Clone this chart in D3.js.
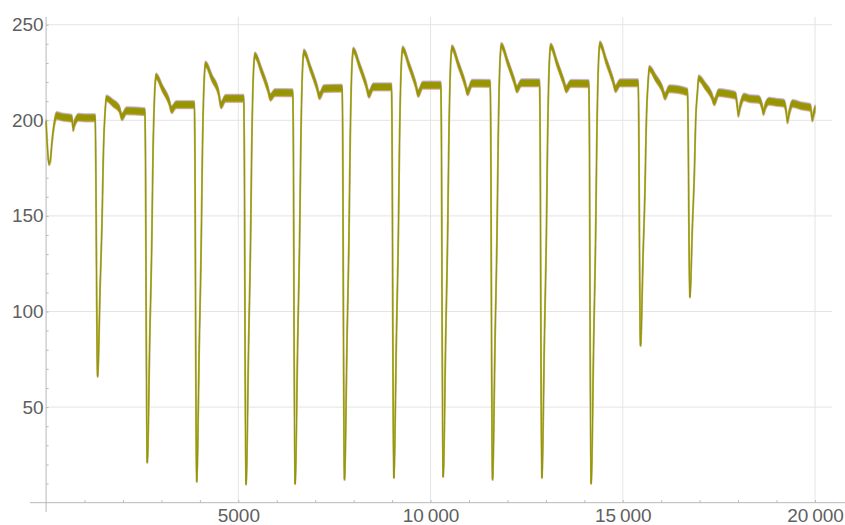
<!DOCTYPE html>
<html>
<head>
<meta charset="utf-8">
<script src="https://cdn.jsdelivr.net/npm/d3@7"></script>
<style>
  body { margin: 0; background: #fff; }
  text { font-family: "Liberation Sans", Arial, sans-serif; }
</style>
</head>
<body>
<div id="chart-area"></div>
<script>

// Trace: time, level, and half-width of the noisy band
var sampleT = [
  [0, 40, 75, 110, 150, 210, 271, 400, 669, 690, 703, 740, 800, 833, 1000],
  [1276, 1293, 1316, 1338, 1408, 1453, 1493, 1533, 1568, 1738, 1903, 1973, 2088],
  [2568, 2585, 2608, 2630, 2700, 2745, 2785, 2825, 2860, 3030, 3195, 3265, 3380],
  [3854, 3871, 3894, 3916, 3986, 4031, 4071, 4111, 4146, 4316, 4481, 4551, 4666],
  [5138, 5155, 5178, 5200, 5270, 5315, 5355, 5395, 5430, 5600, 5765, 5835, 5950],
  [6414, 6431, 6454, 6476, 6546, 6591, 6631, 6671, 6706, 6876, 7041, 7111, 7226],
  [7698, 7715, 7738, 7760, 7830, 7875, 7915, 7955, 7990, 8160, 8325, 8395, 8510],
  [8982, 8999, 9022, 9044, 9114, 9159, 9199, 9239, 9274, 9444, 9609, 9679, 9794],
  [10265, 10282, 10305, 10327, 10397, 10442, 10482, 10522, 10557, 10727, 10892, 10962, 11077],
  [11549, 11566, 11589, 11611, 11681, 11726, 11766, 11806, 11841, 12011, 12176, 12246, 12361],
  [12833, 12850, 12873, 12895, 12965, 13010, 13050, 13090, 13125, 13295, 13460, 13530, 13645],
  [14114, 14131, 14154, 14176, 14246, 14291, 14331, 14371, 14406, 14576, 14741, 14811, 14926],
  [15398, 15415, 15438, 15460, 15530, 15575, 15615, 15655, 15690, 15860, 16025, 16095, 16210],
  [16682, 16699, 16722, 16744, 16814, 16859, 16899, 16939, 16974, 17144, 17309, 17379, 17494],
  [17700, 17934, 17975, 18004, 18060, 18150, 18300, 18540, 18625, 18655, 18720, 18801,
   19000, 19192, 19255, 19280, 19340, 19411, 19650, 19883, 19910, 19927, 19970, 20000]
].flat();

var sampleV = [
  [199, 184, 177.5, 179, 188, 198, 202.5, 201.8, 201, 198, 196, 198.5, 201, 201.6, 201.3],
  [201.3, 176, 106, 66, 115, 146, 185, 204, 211.5, 209, 206, 201.8, 205],
  [204.5, 180, 76, 21, 90, 132, 187, 215, 223, 216.5, 210, 205.5, 208.2],
  [208.2, 183, 70, 11, 85, 131, 190, 221, 229.3, 222, 214.8, 208, 211.5],
  [211.5, 186, 70, 9.6, 86, 133, 194, 226, 234, 226, 216.6, 212, 214.5],
  [214.4, 189, 71, 9.8, 86.6, 134, 195, 227.6, 235.6, 227, 217.5, 212.8, 216.6],
  [216.8, 191, 74, 12, 88, 135.5, 196, 228.6, 236.6, 228, 218.4, 213.6, 217.5],
  [217.5, 192, 74.5, 13, 89, 136, 197, 229.2, 237.2, 228.5, 218.8, 214, 218.4],
  [218.4, 193, 75, 13.5, 89.8, 137, 197.4, 229.8, 237.8, 229, 219.5, 214.8, 219.4],
  [219.3, 194, 74, 12, 89, 137, 198, 231, 239, 230, 220.5, 216.3, 219.6],
  [219.6, 194, 75, 13, 89.7, 137, 198, 230.7, 238.7, 229.5, 220.2, 216.3, 219.3],
  [219.2, 194, 73, 10, 88, 136, 198.4, 231.8, 239.8, 230.5, 221, 216.5, 219.6],
  [219.6, 200, 123, 82, 131, 162, 201, 219, 227, 222, 216.5, 212.6, 216.5],
  [214.8, 198, 140, 107.5, 146.4, 170.5, 201.4, 214, 222, 218, 213, 209.6, 214.5],
  [214, 213, 208, 203.5, 208, 212.2, 211.3, 211, 207, 204.4, 208, 210,
   209.4, 209, 204, 200, 205, 208.8, 207.5, 206.7, 203, 201, 204, 206]
].flat();

var sampleSpread = [
  [0.8, 0.8, 0.8, 1, 1.2, 1.4, 1.6, 1.6, 1.6, 1.6, 1.6, 1.6, 1.6, 1.6, 1.6],
  [1.6, 0.5, 0, 0, 0, 0, 0.2, 0.8, 1.3, 1.6, 1.6, 1.6, 1.6],
  [1.6, 0.5, 0, 0, 0, 0, 0.2, 0.8, 1.3, 1.6, 1.6, 1.6, 1.6],
  [1.6, 0.5, 0, 0, 0, 0, 0.2, 0.8, 1.3, 1.6, 1.6, 1.6, 1.6],
  [1.6, 0.5, 0, 0, 0, 0, 0.2, 0.8, 1.3, 1.6, 1.6, 1.6, 1.6],
  [1.6, 0.5, 0, 0, 0, 0, 0.2, 0.8, 1.3, 1.6, 1.6, 1.6, 1.6],
  [1.6, 0.5, 0, 0, 0, 0, 0.2, 0.8, 1.3, 1.6, 1.6, 1.6, 1.6],
  [1.6, 0.5, 0, 0, 0, 0, 0.2, 0.8, 1.3, 1.6, 1.6, 1.6, 1.6],
  [1.6, 0.5, 0, 0, 0, 0, 0.2, 0.8, 1.3, 1.6, 1.6, 1.6, 1.6],
  [1.6, 0.5, 0, 0, 0, 0, 0.2, 0.8, 1.3, 1.6, 1.6, 1.6, 1.6],
  [1.6, 0.5, 0, 0, 0, 0, 0.2, 0.8, 1.3, 1.6, 1.6, 1.6, 1.6],
  [1.6, 0.5, 0, 0, 0, 0, 0.2, 0.8, 1.3, 1.6, 1.6, 1.6, 1.6],
  [1.6, 0.5, 0, 0, 0, 0.1, 0.4, 0.9, 1.3, 1.6, 1.6, 1.6, 1.6],
  [1.6, 0.6, 0.2, 0, 0.1, 0.3, 0.6, 1.0, 1.3, 1.6, 1.6, 1.6, 1.6],
  [1.6, 1.6, 1.6, 1.5, 1.6, 1.6, 1.6, 1.6, 1.6, 1.5, 1.6, 1.6,
   1.6, 1.6, 1.6, 1.5, 1.6, 1.6, 1.6, 1.6, 1.6, 1.5, 1.6, 1.6]
].flat();

var xTicks = [5000, 10000, 15000, 20000];
var xTickLabels = ["5000", "10\u2009000", "15\u2009000", "20\u2009000"];
var yTicks = [50, 100, 150, 200, 250];
var xMinor = d3.range(1000, 20001, 1000);
var yMinor = d3.range(10, 251, 10);

var data = sampleT.map(function(t, i) {
    return {t: t, v: sampleV[i], s: sampleSpread[i]};
});

var width = 845, height = 525;

var svg = d3.select("#chart-area").append("svg")
    .attr("width", width)
    .attr("height", height);

// Scales
var x = d3.scaleLinear().domain([0, 20000]).range([46.1, 815]);
var y = d3.scaleLinear().domain([0, 250]).range([502.7, 24.7]);

// Grid
svg.append("g").selectAll("line")
    .data(yTicks)
    .join("line")
    .attr("x1", x(0)).attr("x2", 832)
    .attr("y1", d => y(d)).attr("y2", d => y(d))
    .attr("stroke", "#e4e4e4").attr("stroke-width", 1);

svg.append("g").selectAll("line")
    .data(xTicks)
    .join("line")
    .attr("x1", d => x(d)).attr("x2", d => x(d))
    .attr("y1", 17).attr("y2", y(0))
    .attr("stroke", "#e4e4e4").attr("stroke-width", 1);

// Axes lines (extended like the original)
svg.append("line")
    .attr("x1", 30).attr("x2", 845)
    .attr("y1", y(0)).attr("y2", y(0))
    .attr("stroke", "#b8b8b8");
svg.append("line")
    .attr("x1", x(0)).attr("x2", x(0))
    .attr("y1", 17).attr("y2", 512)
    .attr("stroke", "#b8b8b8");

// Minor ticks
var xMinorAxis = svg.append("g")
    .attr("transform", `translate(0, ${y(0)})`)
    .call(d3.axisBottom(x).tickValues(xMinor).tickSize(-2.5).tickFormat(""));
xMinorAxis.select(".domain").remove();
xMinorAxis.selectAll("line").attr("stroke", "#b8b8b8");

var yMinorAxis = svg.append("g")
    .attr("transform", `translate(${x(0)}, 0)`)
    .call(d3.axisLeft(y).tickValues(yMinor).tickSize(-2.5).tickFormat(""));
yMinorAxis.select(".domain").remove();
yMinorAxis.selectAll("line").attr("stroke", "#b8b8b8");

// Tick labels
var xAxis = svg.append("g")
    .attr("transform", `translate(0, ${y(0)})`)
    .call(d3.axisBottom(x).tickValues(xTicks).tickSize(0).tickPadding(6)
        .tickFormat((d, i) => xTickLabels[i]));
xAxis.select(".domain").remove();
xAxis.selectAll("text")
    .attr("font-size", 19).attr("fill", "#5f5f5f")
    .style("font-family", "'Liberation Sans', Arial, sans-serif");

var yAxis = svg.append("g")
    .attr("transform", `translate(${x(0)}, 0)`)
    .call(d3.axisLeft(y).tickValues(yTicks).tickSize(0).tickPadding(2.5));
yAxis.select(".domain").remove();
yAxis.selectAll("text")
    .attr("font-size", 19).attr("fill", "#5f5f5f")
    .style("font-family", "'Liberation Sans', Arial, sans-serif");

// Trace
var area = d3.area()
    .x(d => x(d.t))
    .y0(d => y(d.v - d.s))
    .y1(d => y(d.v + d.s))
    .curve(d3.curveMonotoneX);

var line = d3.line()
    .x(d => x(d.t))
    .y(d => y(d.v))
    .curve(d3.curveMonotoneX);

var fringes = [
    {color: "#8778b3", dx: 0.3, dy: -1.2},
    {color: "#5e81b5", dx: 0.4, dy: 1.2},
    {color: "#e19c24", dx: -0.4, dy: 1.0},
    {color: "#a5609d", dx: -0.3, dy: -0.9},
    {color: "#eb6235", dx: 0.2, dy: 0.8}
];

svg.append("g").selectAll("path")
    .data(fringes)
    .join("path")
    .attr("d", area(data))
    .attr("transform", d => `translate(${d.dx}, ${d.dy})`)
    .attr("fill", d => d.color)
    .attr("stroke", d => d.color)
    .attr("stroke-width", 0.6)
    .attr("opacity", 0.35);

svg.append("path")
    .attr("d", line(data))
    .attr("fill", "none")
    .attr("stroke", "#d6d39c")
    .attr("stroke-width", 2.0);

svg.append("path")
    .attr("d", area(data))
    .attr("fill", "#999700")
    .attr("stroke", "#999700")
    .attr("stroke-width", 0.5);

svg.append("path")
    .attr("d", line(data))
    .attr("fill", "none")
    .attr("stroke", "#929600")
    .attr("stroke-width", 1.0);

</script>
</body>
</html>
